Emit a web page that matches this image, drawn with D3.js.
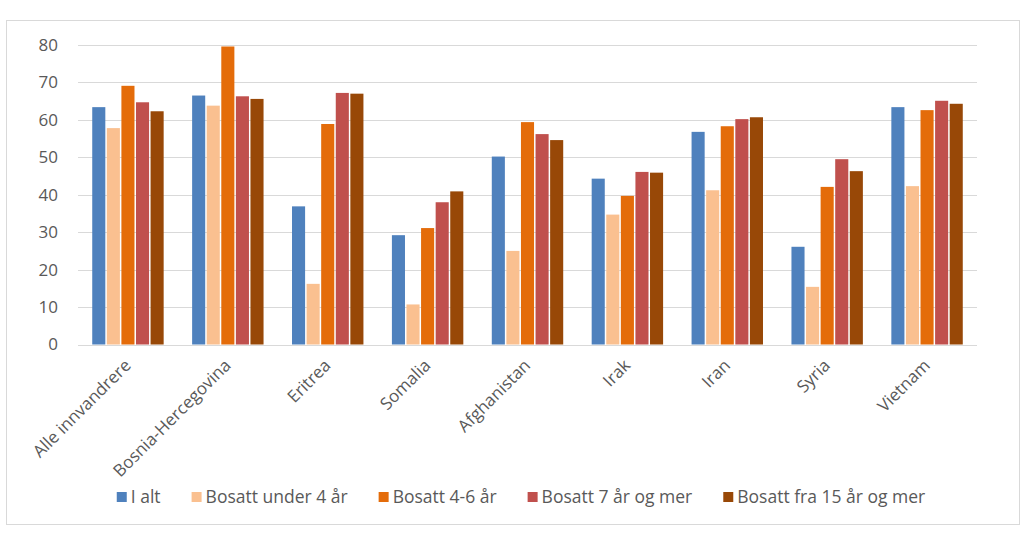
<!DOCTYPE html>
<html><head><meta charset="utf-8">
<script src="https://cdn.jsdelivr.net/npm/d3@7"></script>
<style>body{margin:0;background:#fff;} svg{display:block;font-family:"Open Sans",sans-serif;}</style>
</head><body><svg id="c" width="1024" height="540"></svg>
<script>
const categories = ["Alle innvandrere","Bosnia-Hercegovina","Eritrea","Somalia","Afghanistan","Irak","Iran","Syria","Vietnam"];
const seriesNames = ["I alt","Bosatt under 4 år","Bosatt 4-6 år","Bosatt 7 år og mer","Bosatt fra 15 år og mer"];
const iAlt      = [63.4,66.5,36.9,29.2,50.2,44.3,56.8,26.1,63.4];
const under4    = [57.8,63.8,16.2,10.7,25.0,34.7,41.2,15.4,42.3];
const aar4til6  = [69.1,79.6,58.9,31.1,59.4,39.7,58.3,42.1,62.6];
const aar7pluss = [64.7,66.3,67.2,38.0,56.2,46.1,60.2,49.5,65.1];
const fra15     = [62.3,65.6,67.0,40.9,54.6,45.9,60.7,46.3,64.3];
const yTicks = [0,10,20,30,40,50,60,70,80];
const colors = ["#4F81BD","#FAC090","#E46C0A","#C0504D","#984807"];
const seriesValues = [iAlt, under4, aar4til6, aar7pluss, fra15];

(function(){
const svg = d3.select("#c");
svg.append("rect").attr("x",6.5).attr("y",20.5).attr("width",1013).attr("height",504)
  .attr("fill","#fff").attr("stroke","#d9d9d9").attr("stroke-width",1);

const pLeft = 78, pRight = 977, pTop = 45, pBottom = 344.5;
const x = d3.scaleBand().domain(categories).range([pLeft,pRight]).paddingInner(0.27).paddingOuter(0.135);
const y = d3.scaleLinear().domain([0,80]).range([pBottom, pTop]);
const xs = d3.scaleBand().domain(d3.range(5)).range([0, x.bandwidth()]);

svg.append("g").selectAll("line").data(yTicks).join("line")
  .attr("x1",pLeft).attr("x2",pRight).attr("y1",d=>Math.round(y(d))+0.5).attr("y2",d=>Math.round(y(d))+0.5)
  .attr("stroke","#d9d9d9").attr("stroke-width",1);

const yAxis = svg.append("g").attr("transform",`translate(${pLeft},0)`)
  .call(d3.axisLeft(y).tickValues(yTicks).tickSize(0).tickPadding(20));
yAxis.select(".domain").remove();
yAxis.selectAll("text").attr("fill","#595959").style("font-size","17px").style("font-family","'Open Sans',sans-serif");

const g = svg.append("g");
seriesValues.forEach((vals,si)=>{
  g.append("g").selectAll("rect").data(vals).join("rect")
    .attr("x",(d,i)=>x(categories[i])+xs(si)+0.75)
    .attr("width",xs.bandwidth()-1.5)
    .attr("y",d=>y(d))
    .attr("height",d=>pBottom-y(d))
    .attr("fill",colors[si]);
});

const xAxis = svg.append("g").attr("transform",`translate(0,${pBottom})`)
  .call(d3.axisBottom(x).tickSize(0).tickPadding(0));
xAxis.select(".domain").remove();
xAxis.selectAll("text")
  .attr("fill","#595959").style("font-size","17px").style("font-family","'Open Sans',sans-serif")
  .attr("text-anchor","end").attr("dy",0).attr("y",0)
  .attr("transform","translate(4,22) rotate(-45)");

const leg = svg.append("g").attr("transform","translate(0,497)");
const items = leg.selectAll("g").data(seriesNames).join("g");
items.append("rect").attr("width",10).attr("height",10).attr("y",-5).attr("fill",(d,i)=>colors[i]);
items.append("text").text(d=>d).attr("x",14).attr("dy","0.35em")
  .attr("fill","#595959").style("font-size","17.5px").style("font-family","'Open Sans',sans-serif");
let widths = [];
items.each(function(){ widths.push(this.getBBox().width); });
const gap = 31;
const total = d3.sum(widths) + gap*(widths.length-1);
let cx = 521 - total/2;
items.attr("transform",(d,i)=>{ const t=`translate(${cx},0)`; cx += widths[i]+gap; return t; });
})();
</script></body></html>
